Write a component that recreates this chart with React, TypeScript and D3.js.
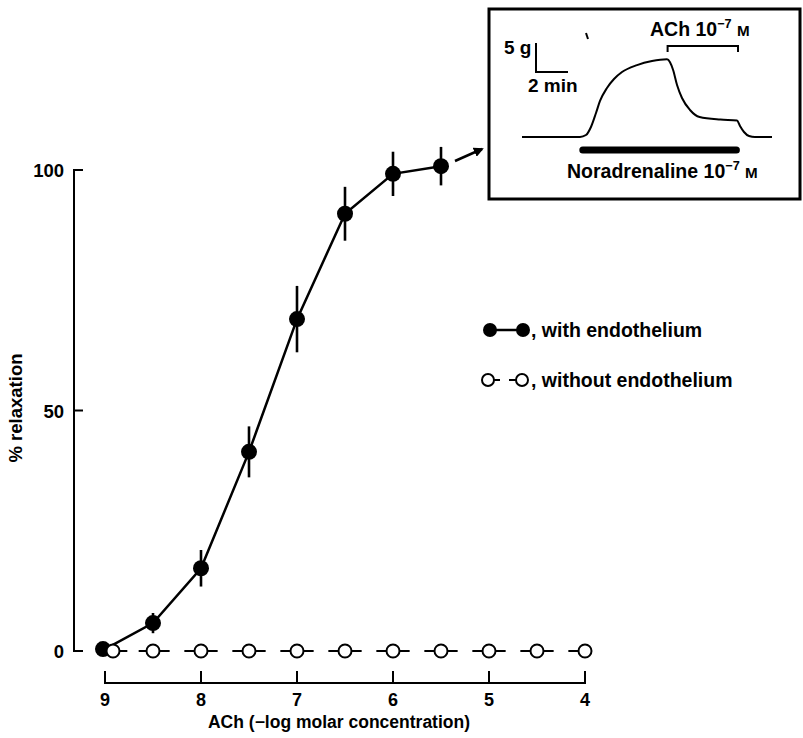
import React from "react";
import * as d3 from "d3";

// Main dose-response data (ACh, -log molar concentration)
const dosesWith = [9, 8.5, 8, 7.5, 7, 6.5, 6, 5.5];
const relaxWith = [0.4, 5.8, 17.2, 41.4, 69, 90.9, 99.2, 100.8];
const semWith = [0, 2.1, 3.8, 5.3, 6.9, 5.6, 4.6, 4];
const dosesWithout = [9, 8.5, 8, 7.5, 7, 6.5, 6, 5.5, 5, 4.5, 4];
const relaxWithout = [0, 0, 0, 0, 0, 0, 0, 0, 0, 0, 0];
const xTicks = [9, 8, 7, 6, 5, 4];
const yTicks = [0, 50, 100];

// Inset tension trace: time (min), tension (g)
const traceTime = [0, 3.625, 4.0, 4.31, 4.625, 4.875, 5.31, 5.75, 6.25, 7.19, 8.125, 9.06, 9.25, 9.44, 9.69, 10.0, 10.5, 11.1, 12.4, 13.44, 13.625, 13.875, 14.19, 14.56, 15.625];
const traceTension = [0, 0, 0.34, 1.72, 4.14, 6.21, 8.45, 10.0, 11.2, 12.4, 13.1, 13.4, 12.9, 11.6, 8.97, 6.72, 4.66, 3.45, 3.0, 2.84, 1.9, 0.86, 0.17, 0, 0];
const noradrenalineSpan = [3.8, 13.4];
const achSpan = [9.1, 13.5];

const FONT = "'Liberation Sans', Arial, Helvetica, sans-serif";

export default function App() {
  const x = d3.scaleLinear().domain([9, 4]).range([105, 585]);
  const y = d3.scaleLinear().domain([0, 100]).range([651, 170]);
  const axisX = 74;
  const axisY = 683;

  const ix = d3.scaleLinear().domain([0, 15.625]).range([522, 772]);
  const iy = d3.scaleLinear().domain([0, 5]).range([137, 108]);

  const withPts = dosesWith.map((d, i) => [x(d), y(relaxWith[i])] as [number, number]);
  const solidLine = d3.line()(withPts) || "";

  const openPts = dosesWithout.map((d, i) => [x(d) + (i === 0 ? 8 : 0), y(relaxWithout[i])]);
  const rOpen = 6.5;

  const trace = d3
    .line<number>()
    .x((_, i) => ix(traceTime[i]))
    .y((d) => iy(d))
    .curve(d3.curveMonotoneX)(traceTension) || "";

  const sbT = 0.875;
  const sbG = 11.2;

  const sup = (size: number) => (
    <>
      <tspan dy={-8} fontSize={size * 0.65}>−7</tspan>
      <tspan dy={8} fontSize={size}> </tspan>
      <tspan fontSize={size * 0.78}>M</tspan>
    </>
  );

  return (
    <svg
      width={803}
      height={738}
      style={{ position: "absolute", left: 0, top: 0, background: "#fff" }}
      fontFamily={FONT}
    >
      <rect x={0} y={0} width={803} height={738} fill="#fff" />

      {/* Y axis */}
      <line x1={axisX} x2={axisX} y1={y(100)} y2={y(0)} stroke="#000" strokeWidth={2} />
      {yTicks.map((t) => (
        <g key={t}>
          <line x1={axisX - 1} x2={axisX + 9} y1={y(t)} y2={y(t)} stroke="#000" strokeWidth={2} />
          <text x={64} y={y(t) + 7} textAnchor="end" fontSize={18.5} fontWeight="bold">
            {t}
          </text>
        </g>
      ))}
      <text
        transform={`translate(22,408) rotate(-90)`}
        textAnchor="middle"
        fontSize={18.5}
        fontWeight="bold"
      >
        % relaxation
      </text>

      {/* X axis */}
      <line x1={x(9)} x2={x(4)} y1={axisY} y2={axisY} stroke="#000" strokeWidth={2} />
      {xTicks.map((t) => (
        <g key={t}>
          <line x1={x(t)} x2={x(t)} y1={axisY + 1} y2={axisY - 12} stroke="#000" strokeWidth={2} />
          <text x={x(t)} y={axisY + 23} textAnchor="middle" fontSize={18} fontWeight="bold">
            {t}
          </text>
        </g>
      ))}
      <text x={339} y={728} textAnchor="middle" fontSize={17.5} fontWeight="bold">
        ACh (−log molar concentration)
      </text>

      {/* Without endothelium: dashed segments between open circles */}
      {openPts.slice(1).map((p, i) => {
        const a = openPts[i];
        const x1 = a[0] + rOpen;
        const x2 = p[0] - rOpen;
        return (
          <line
            key={i}
            x1={x1}
            x2={x2}
            y1={a[1]}
            y2={p[1]}
            stroke="#000"
            strokeWidth={2}
            strokeDasharray={`${(x2 - x1) * 0.29},${(x2 - x1) * 0.42}`}
          />
        );
      })}

      {/* With endothelium */}
      <path d={solidLine} fill="none" stroke="#000" strokeWidth={2.5} />
      {dosesWith.map((d, i) =>
        semWith[i] > 0 ? (
          <line
            key={"e" + i}
            x1={x(d)}
            x2={x(d)}
            y1={y(relaxWith[i] + semWith[i])}
            y2={y(relaxWith[i] - semWith[i])}
            stroke="#000"
            strokeWidth={2.6}
          />
        ) : null
      )}
      {dosesWith.map((d, i) => (
        <circle key={"f" + i} cx={x(d) - (i === 0 ? 2 : 0)} cy={y(relaxWith[i])} r={8} fill="#000" />
      ))}
      {openPts.map((p, i) => (
        <circle key={"o" + i} cx={p[0]} cy={p[1]} r={rOpen} fill="#fff" stroke="#000" strokeWidth={2} />
      ))}

      {/* Arrow to inset */}
      <defs>
        <marker id="ah" viewBox="0 0 10 10" refX={8} refY={5} markerWidth={4} markerHeight={4} orient="auto">
          <path d="M0,0 L10,5 L0,10 z" fill="#000" />
        </marker>
      </defs>
      <line x1={455} y1={161} x2={482} y2={149} stroke="#000" strokeWidth={2.5} markerEnd="url(#ah)" />

      {/* Legend */}
      <line x1={490} x2={523} y1={330} y2={330} stroke="#000" strokeWidth={2.5} />
      <circle cx={490} cy={330} r={7} fill="#000" />
      <circle cx={523} cy={330} r={7} fill="#000" />
      <text x={531} y={337} fontSize={19.5} fontWeight="bold">, with endothelium</text>

      <line x1={494} x2={500} y1={380} y2={380} stroke="#000" strokeWidth={2} />
      <line x1={509} x2={516} y1={380} y2={380} stroke="#000" strokeWidth={2} />
      <circle cx={488} cy={380} r={6} fill="#fff" stroke="#000" strokeWidth={2} />
      <circle cx={522} cy={380} r={6} fill="#fff" stroke="#000" strokeWidth={2} />
      <text x={531} y={387} fontSize={19.5} fontWeight="bold">, without endothelium</text>

      {/* Inset */}
      <rect x={489} y={9} width={311} height={190} fill="#fff" stroke="#000" strokeWidth={3} />
      <path d={trace} fill="none" stroke="#000" strokeWidth={2} />
      <line
        x1={ix(noradrenalineSpan[0])}
        x2={ix(noradrenalineSpan[1])}
        y1={150}
        y2={150}
        stroke="#000"
        strokeWidth={7}
        strokeLinecap="round"
      />
      <path
        d={`M${ix(achSpan[0])},52 L${ix(achSpan[0])},46 L${ix(achSpan[1])},46 L${ix(achSpan[1])},52`}
        fill="none"
        stroke="#000"
        strokeWidth={2}
      />
      {/* scale bar */}
      <path
        d={`M${ix(sbT)},${iy(sbG + 5)} L${ix(sbT)},${iy(sbG)} L${ix(sbT + 2)},${iy(sbG)}`}
        fill="none"
        stroke="#000"
        strokeWidth={2}
      />
      <line x1={586} y1={33} x2={588} y2={39} stroke="#000" strokeWidth={2} />
      <text x={504} y={54} fontSize={19} fontWeight="bold">5 g</text>
      <text x={528} y={92} fontSize={19} fontWeight="bold">2 min</text>
      <text x={650} y={36} fontSize={19.5} fontWeight="bold">
        ACh 10{sup(19.5)}
      </text>
      <text x={567} y={178} fontSize={19.5} fontWeight="bold">
        Noradrenaline 10{sup(19.5)}
      </text>
    </svg>
  );
}
